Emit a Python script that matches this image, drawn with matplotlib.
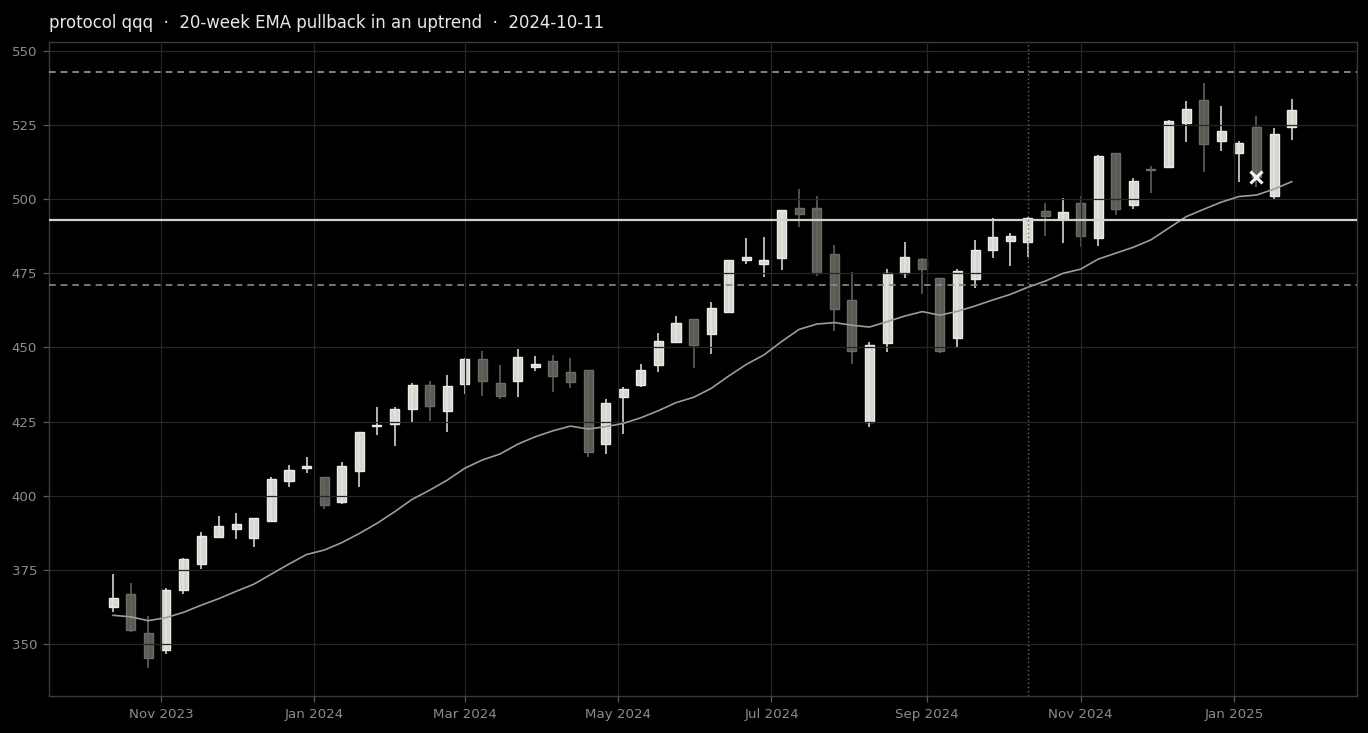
import matplotlib
matplotlib.use("Agg")
import matplotlib.pyplot as plt
import matplotlib.dates as mdates
import numpy as np
import pandas as pd

# ---- data (weekly candles, Friday dates) ----
dates = pd.date_range("2023-10-13", periods=68, freq="7D")

opens = [362.4, 366.8, 353.6, 347.9, 368.4, 376.9, 386.0, 388.9, 385.9, 391.6,
         404.9, 409.3, 406.2, 397.8, 408.2, 423.4, 424.1, 429.2, 437.3, 428.5,
         437.6, 446.0, 437.9, 438.6, 443.3, 445.4, 441.6, 442.3, 417.4, 433.2,
         437.3, 444.0, 451.8, 459.5, 454.5, 461.9, 479.4, 478.1, 480.1, 496.9,
         496.9, 481.4, 465.9, 425.0, 451.4, 475.2, 479.8, 473.3, 453.1, 473.0,
         482.8, 485.8, 485.5, 495.9, 493.2, 498.6, 486.8, 515.5, 498.0, 510.1,
         511.0, 525.6, 533.4, 519.5, 515.5, 524.3, 501.1, 524.5]
highs = [373.5, 370.5, 359.6, 368.8, 379.0, 387.7, 393.1, 394.1, 392.6, 406.4,
         410.4, 413.0, 406.5, 411.3, 421.6, 429.8, 430.0, 437.9, 438.8, 440.6,
         446.4, 448.7, 444.0, 449.4, 447.0, 447.4, 446.4, 442.5, 432.5, 436.6,
         444.3, 454.8, 460.5, 459.7, 465.5, 479.6, 486.8, 487.2, 496.5, 503.4,
         501.0, 484.5, 475.4, 452.0, 476.4, 485.5, 480.1, 473.5, 476.4, 486.2,
         493.6, 488.5, 494.0, 498.6, 500.3, 501.2, 514.8, 515.7, 507.1, 511.3,
         526.7, 533.0, 539.1, 531.3, 519.5, 527.9, 523.9, 533.7]
lows = [360.7, 354.2, 342.1, 346.6, 366.8, 375.3, 385.8, 385.6, 382.6, 391.3,
        402.9, 407.6, 395.4, 397.4, 402.9, 420.4, 416.7, 424.8, 425.1, 421.4,
        434.2, 433.5, 432.5, 433.2, 442.0, 434.9, 436.2, 413.1, 414.1, 420.7,
        436.6, 441.6, 451.5, 443.0, 447.8, 461.5, 478.1, 473.8, 476.0, 490.5,
        474.0, 455.5, 444.4, 423.3, 448.4, 473.3, 467.9, 448.0, 449.7, 470.0,
        480.1, 477.4, 480.4, 487.5, 485.1, 483.8, 484.2, 494.6, 496.6, 502.0,
        510.4, 519.2, 509.1, 516.2, 505.7, 504.0, 499.7, 520.0]
closes = [365.4, 354.6, 345.2, 368.1, 378.6, 386.3, 389.7, 390.5, 392.4, 405.5,
          408.6, 410.0, 396.8, 409.9, 421.4, 424.0, 429.2, 437.3, 430.4, 436.9,
          446.0, 438.8, 433.7, 446.7, 444.3, 440.3, 438.3, 414.7, 431.2, 435.9,
          442.3, 452.1, 458.2, 450.7, 463.2, 479.4, 480.4, 479.4, 496.3, 494.9,
          475.2, 462.9, 448.7, 450.7, 475.2, 480.4, 476.4, 448.7, 475.7, 482.8,
          487.2, 487.5, 493.6, 494.2, 495.6, 487.5, 514.5, 496.6, 506.1, 509.8,
          526.5, 530.5, 518.5, 522.9, 518.9, 507.6, 521.9, 530.0]
ema20 = [359.7, 359.2, 357.9, 358.9, 360.7, 363.1, 365.3, 367.8, 370.2, 373.6,
         377.0, 380.2, 381.7, 384.2, 387.3, 390.7, 394.6, 398.8, 401.9, 405.3,
         409.3, 412.1, 414.1, 417.4, 419.9, 421.9, 423.5, 422.5, 423.3, 424.4,
         426.3, 428.7, 431.4, 433.2, 436.2, 440.4, 444.3, 447.5, 452.0, 456.1,
         457.9, 458.4, 457.5, 456.9, 458.7, 460.6, 462.1, 460.9, 462.2, 464.0,
         466.0, 467.9, 470.3, 472.4, 475.0, 476.4, 479.8, 481.8, 483.8, 486.3,
         490.2, 494.1, 496.6, 499.0, 500.9, 501.4, 503.4, 505.9]

upper_level = 543.0
key_level = 493.0
lower_level = 471.0
signal_date = "2024-10-11"
marker_index = 65
title = "protocol qqq  \u00b7  20-week EMA pullback in an uptrend  \u00b7  2024-10-11"

# ---- figure ----
BG = "#000000"
fig = plt.figure(figsize=(13.68, 7.33), dpi=100, facecolor=BG)
ax = fig.add_axes([49 / 1368, 1 - 696 / 733, (1357 - 49) / 1368, (696 - 42) / 733])
ax.set_facecolor(BG)

x = mdates.date2num(dates)
o = np.array(opens); h = np.array(highs); l = np.array(lows); c = np.array(closes)
up = c >= o

UP_FILL, UP_EDGE = "#d6d6d0", "#ececE7"
DN_FILL, DN_EDGE = "#5a5a55", "#6d6d68"

body_w = 3.6
# bodies
ax.bar(x[up], (c - o)[up], bottom=o[up], width=body_w, color=UP_FILL,
       edgecolor=UP_EDGE, linewidth=1.0, zorder=1)
ax.bar(x[~up], (o - c)[~up], bottom=c[~up], width=body_w, color=DN_FILL,
       edgecolor=DN_EDGE, linewidth=1.0, zorder=1)
# wicks
ax.vlines(x[up], l[up], h[up], color="#e6e6e1", linewidth=1.1, zorder=1.5)
ax.vlines(x[~up], l[~up], h[~up], color="#676762", linewidth=1.1, zorder=1.5)

# EMA
ax.plot(x, ema20, color="#9c9c99", linewidth=1.2, zorder=3)

# levels
ax.axhline(upper_level, color="#9a9a97", linewidth=1.2, linestyle=(0, (4, 3)), zorder=3)
ax.axhline(lower_level, color="#8a8a87", linewidth=1.2, linestyle=(0, (4, 3)), zorder=3)
ax.axhline(key_level, color="#d2d2ce", linewidth=1.6, zorder=3)
ax.axvline(mdates.date2num(pd.Timestamp(signal_date)), color="#6a6a6a",
           linewidth=1.0, linestyle=(0, (1, 2)), zorder=3)

# signal marker
ax.plot([x[marker_index]], [closes[marker_index]], marker="x", color="#f2f2f2",
        markersize=9, markeredgewidth=2.2, linestyle="none", zorder=5)

# axes styling
ax.set_xlim(mdates.date2num(pd.Timestamp("2023-09-17 12:00")),
            mdates.date2num(pd.Timestamp("2025-02-19")))
ax.set_ylim(332.5, 553.0)
ax.set_yticks(np.arange(350, 551, 25))
ax.xaxis.set_major_locator(mdates.MonthLocator(bymonth=[1, 3, 5, 7, 9, 11]))
ax.xaxis.set_major_formatter(mdates.DateFormatter("%b %Y"))

ax.set_axisbelow(False)
ax.grid(True, color="#262626", linewidth=0.9)
for s in ax.spines.values():
    s.set_color("#3a3a3a")
    s.set_linewidth(1.0)
ax.tick_params(axis="both", colors="#5a5a5a", labelcolor="#8c8c8c", labelsize=9.6,
               length=4, width=0.9, pad=4.5)

ax.set_title(title, loc="left", color="#e8e8e8", fontsize=13.2,
             fontfamily="DejaVu Sans", fontstretch="condensed", pad=10)

fig.savefig("out.png", dpi=100, facecolor=BG)
